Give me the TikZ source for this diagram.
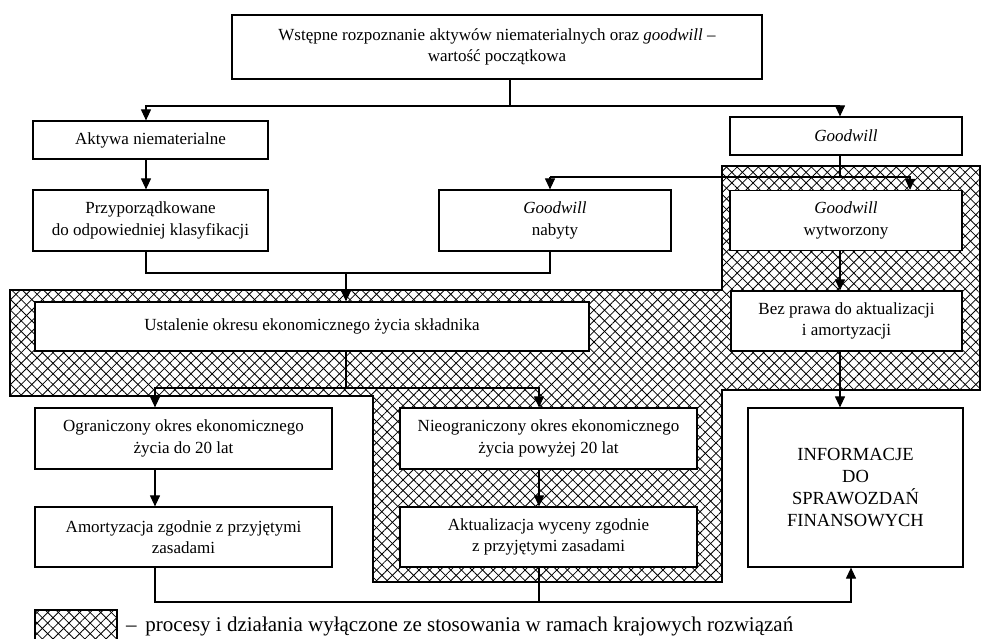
\documentclass[tikz,border=0pt]{standalone}
\usepackage{fontspec}
\setmainfont{Liberation Serif}
\usetikzlibrary{arrows.meta,patterns.meta}
\begin{document}
\begin{tikzpicture}[x=1pt,y=-1pt,
  box/.style={draw,line width=1.2pt,fill=white,align=center,inner sep=2pt,
    font=\fontsize{17}{21.5}\selectfont},
  conn/.style={line width=1.1pt},
  arr/.style={conn,-{Triangle[length=11pt,width=10pt]}},
  hatchA/.style={pattern={Lines[angle=45,distance=7.5pt,line width=0.8pt]}},
  hatchB/.style={pattern={Lines[angle=-45,distance=7.5pt,line width=0.8pt]}},
  hatched/.style={draw,line width=1.6pt,hatchA,preaction={fill=white},preaction={hatchB}}]
\useasboundingbox (0,0) rectangle (983,639);

% hatched region
\path[hatched] (10,290) -- (722,290) -- (722,166) -- (980,166) -- (980,390)
  -- (722,390) -- (722,582) -- (373,582) -- (373,396) -- (10,396) -- cycle;

% column coordinates
\coordinate (cL) at (146,0);
\coordinate (cR) at (840,0);
\coordinate (cN) at (550,0);
\coordinate (cW) at (910,0);
\coordinate (cO) at (155,0);
\coordinate (cA) at (539,0);
\coordinate (cI) at (851,0);
\coordinate (j1) at (510,106);
\coordinate (j2) at (346,273);
\coordinate (j3) at (840,177);
\coordinate (j4) at (346,388);
\coordinate (j5) at (539,602);

% boxes
\node[box,minimum width=530pt,minimum height=64pt] (top) at (497,47)
  {Wstępne rozpoznanie aktywów niematerialnych oraz \textit{goodwill} –\\wartość początkowa};
\node[box,minimum width=235pt,minimum height=38pt] (akt) at (150.5,140) {Aktywa niematerialne};
\node[box,minimum width=235pt,minimum height=61pt] (przyp) at (150.5,220.5)
  {Przyporządkowane\\do odpowiedniej klasyfikacji};
\node[box,minimum width=232pt,minimum height=61pt] (nabyty) at (555,220.5)
  {\textit{Goodwill}\\nabyty};
\node[box,minimum width=232pt,minimum height=38pt] (gw) at (846,136) {\textit{Goodwill}};
\node[box,minimum width=232pt,minimum height=60pt] (wytw) at (846,220.5)
  {\textit{Goodwill}\\wytworzony};
\node[box,minimum width=554pt,minimum height=49pt] (ust) at (312,326.5)
  {Ustalenie okresu ekonomicznego życia składnika};
\node[box,minimum width=231pt,minimum height=60pt] (bez) at (846.5,321)
  {Bez prawa do aktualizacji\\i amortyzacji};
\node[box,minimum width=297pt,minimum height=61pt] (ogr) at (183.5,438.5)
  {Ograniczony okres ekonomicznego\\życia do 20 lat};
\node[box,minimum width=297pt,minimum height=61pt] (nieogr) at (548.5,438.5)
  {Nieograniczony okres ekonomicznego\\życia powyżej 20 lat};
\node[box,minimum width=297pt,minimum height=60pt] (amort) at (183.5,537)
  {Amortyzacja zgodnie z przyjętymi\\zasadami};
\node[box,minimum width=297pt,minimum height=60pt] (aktual) at (548.5,537)
  {Aktualizacja wyceny zgodnie\\z przyjętymi zasadami};
\node[box,minimum width=215pt,minimum height=159pt,font=\fontsize{18.5}{22}\selectfont] (info) at (855.5,487.5)
  {INFORMACJE\\DO\\SPRAWOZDAŃ\\FINANSOWYCH};

% connectors
\draw[conn] (top.south -| j1) -- (j1);
\draw[arr] (j1) -| (akt.north -| cL);
\draw[arr] (j1) -| (gw.north -| cR);
\draw[arr] (akt.south -| cL) -- (przyp.north -| cL);
\draw[conn] (przyp.south -| cL) -- (cL |- j2) -- (cN |- j2) -- (nabyty.south -| cN);
\draw[arr] (j2) -- (ust.north -| j2);
\draw[conn] (gw.south -| cR) -- (j3);
\draw[arr] (cN |- j3) -- (nabyty.north -| cN);
\draw[arr] (cN |- j3) -| (wytw.north -| cW);
\draw[arr] (wytw.south -| cR) -- (bez.north -| cR);
\draw[arr] (bez.south -| cR) -- (info.north -| cR);
\draw[conn] (ust.south -| j4) -- (j4);
\draw[arr] (j4) -| (ogr.north -| cO);
\draw[arr] (j4) -| (nieogr.north -| cA);
\draw[arr] (ogr.south -| cO) -- (amort.north -| cO);
\draw[arr] (nieogr.south -| cA) -- (aktual.north -| cA);
\draw[arr] (amort.south -| cO) |- (j5) -| (info.south -| cI);
\draw[conn] (aktual.south -| cA) -- (j5);

% legend
\path[hatched,line width=1.2pt] (35,610) rectangle (117,642);
\node[anchor=west,inner sep=0pt,font=\fontsize{21}{24}\selectfont] (leg) at (126,626)
  {–\, procesy i działania wyłączone ze stosowania w ramach krajowych rozwiązań};
\end{tikzpicture}
\end{document}
